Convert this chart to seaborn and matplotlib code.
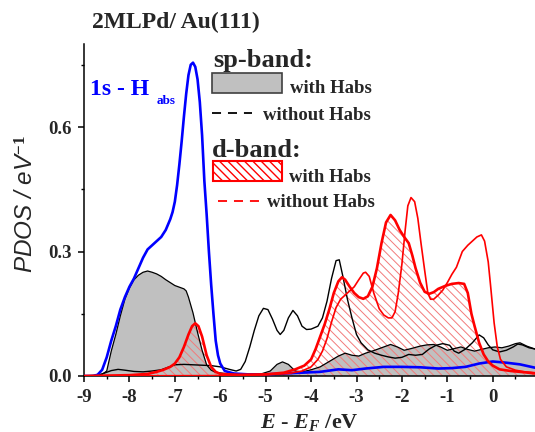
import matplotlib
matplotlib.use("Agg")
import matplotlib.pyplot as plt
import numpy as np
import seaborn as sns
from matplotlib.lines import Line2D
from matplotlib.patches import Rectangle
from matplotlib.ticker import MultipleLocator

# ---- data (energy in eV, PDOS in 1/eV) ----
h1s_e = [-9.0, -8.8, -8.7, -8.6, -8.5, -8.4, -8.3, -8.2, -8.1, -8.0, -7.9, -7.8, -7.7,
         -7.6, -7.5, -7.4, -7.3, -7.2, -7.1, -7.05, -7.0, -6.95, -6.9, -6.85, -6.8, -6.75,
         -6.7, -6.65, -6.6, -6.55, -6.5, -6.45, -6.4, -6.35, -6.3, -6.25, -6.2, -6.15, -6.1,
         -6.05, -6.0, -5.9, -5.7, -5.4, -5.0, -4.6, -4.2, -3.8, -3.4, -3.1, -2.8, -2.4, -2.0,
         -1.6, -1.2, -0.9, -0.6, -0.3, 0.0, 0.3, 0.6, 0.93]
h1s_v = [0.0, 0.0, 0.003, 0.015, 0.045, 0.085, 0.12, 0.16, 0.19, 0.215, 0.235, 0.26, 0.285,
         0.305, 0.315, 0.325, 0.335, 0.352, 0.378, 0.395, 0.42, 0.46, 0.51, 0.565, 0.625, 0.68,
         0.725, 0.75, 0.755, 0.745, 0.715, 0.66, 0.58, 0.47, 0.39, 0.30, 0.22, 0.15, 0.085,
         0.05, 0.03, 0.012, 0.006, 0.004, 0.004, 0.006, 0.008, 0.01, 0.016, 0.014, 0.018, 0.022, 0.022,
         0.021, 0.018, 0.019, 0.022, 0.03, 0.035, 0.032, 0.028, 0.02]

sp_h_e = [-9.0, -8.7, -8.6, -8.5, -8.4, -8.3, -8.2, -8.1, -8.0, -7.9, -7.8, -7.7, -7.6,
          -7.5, -7.4, -7.3, -7.2, -7.1, -7.0, -6.9, -6.8, -6.75, -6.7, -6.6, -6.5, -6.4,
          -6.3, -6.2, -6.1, -5.9, -5.5, -5.1, -4.9, -4.75, -4.63, -4.5, -4.35, -4.2, -4.0,
          -3.8, -3.6, -3.4, -3.25, -3.1, -2.95, -2.8, -2.6, -2.4, -2.25, -2.1, -1.95, -1.8,
          -1.6, -1.45, -1.3, -1.15, -1.0, -0.85, -0.7, -0.55, -0.4, -0.25, -0.1, 0.05, 0.2,
          0.35, 0.5, 0.6, 0.75, 0.93]
sp_h_v = [0.0, 0.001, 0.004, 0.012, 0.06, 0.10, 0.145, 0.185, 0.212, 0.232, 0.243, 0.25, 0.253,
          0.25, 0.246, 0.24, 0.232, 0.225, 0.218, 0.214, 0.21, 0.205, 0.19, 0.152, 0.105, 0.062,
          0.027, 0.014, 0.009, 0.006, 0.004, 0.005, 0.012, 0.028, 0.034, 0.028, 0.012, 0.01, 0.015,
          0.022, 0.035, 0.048, 0.055, 0.05, 0.048, 0.055, 0.062, 0.07, 0.076, 0.07, 0.062, 0.066,
          0.072, 0.075, 0.076, 0.07, 0.062, 0.066, 0.07, 0.064, 0.06, 0.064, 0.068, 0.07, 0.068,
          0.072, 0.078, 0.08, 0.072, 0.065]

sp_0_e = [-9.0, -8.7, -8.55, -8.4, -8.25, -8.1, -7.9, -7.7, -7.5, -7.3, -7.15, -7.0, -6.8,
          -6.6, -6.4, -6.2, -6.0, -5.8, -5.65, -5.55, -5.45, -5.35, -5.25, -5.15, -5.05, -4.95,
          -4.85, -4.75, -4.68, -4.6, -4.5, -4.4, -4.3, -4.2, -4.1, -4.0, -3.85, -3.75, -3.65,
          -3.55, -3.45, -3.38, -3.3, -3.2, -3.1, -3.0, -2.9, -2.75, -2.6, -2.45, -2.3, -2.15,
          -2.0, -1.85, -1.7, -1.55, -1.4, -1.25, -1.1, -0.95, -0.85, -0.75, -0.6, -0.45, -0.3,
          -0.2, -0.1, 0.0, 0.15, 0.3, 0.45, 0.55, 0.65, 0.8, 0.93]
sp_0_v = [0.0, 0.002, 0.007, 0.013, 0.016, 0.014, 0.011, 0.01, 0.012, 0.015, 0.021, 0.027, 0.028,
          0.027, 0.026, 0.025, 0.022, 0.016, 0.012, 0.016, 0.035, 0.07, 0.11, 0.145, 0.163, 0.16,
          0.137, 0.11, 0.10, 0.11, 0.14, 0.158, 0.145, 0.12, 0.112, 0.113, 0.12, 0.14, 0.18,
          0.235, 0.278, 0.28, 0.24, 0.185, 0.14, 0.10, 0.08, 0.063, 0.055, 0.05, 0.046, 0.043,
          0.045, 0.052, 0.05, 0.052, 0.065, 0.074, 0.078, 0.074, 0.06, 0.055, 0.065, 0.08, 0.099,
          0.092, 0.075, 0.063, 0.058, 0.062, 0.07, 0.077, 0.075, 0.068, 0.065]

d_h_e = [-9.0, -8.5, -8.0, -7.6, -7.4, -7.25, -7.1, -7.0, -6.9, -6.8, -6.7, -6.62, -6.55,
         -6.48, -6.4, -6.3, -6.2, -6.1, -6.0, -5.6, -5.0, -4.6, -4.35, -4.15, -4.0, -3.9,
         -3.8, -3.7, -3.6, -3.5, -3.4, -3.32, -3.25, -3.15, -3.05, -2.95, -2.85, -2.75, -2.65,
         -2.55, -2.45, -2.35, -2.25, -2.15, -2.05, -1.95, -1.85, -1.77, -1.7, -1.6, -1.5, -1.4,
         -1.3, -1.2, -1.05, -0.9, -0.75, -0.63, -0.55, -0.47, -0.4, -0.3, -0.2, -0.1, 0.0,
         0.15, 0.4, 0.7, 0.93]
d_h_v = [0.0, 0.001, 0.002, 0.005, 0.01, 0.015, 0.022, 0.03, 0.045, 0.07, 0.10, 0.12, 0.127,
         0.12, 0.095, 0.05, 0.022, 0.01, 0.005, 0.003, 0.004, 0.008, 0.016, 0.025, 0.04, 0.065,
         0.095, 0.125, 0.16, 0.20, 0.228, 0.238, 0.232, 0.215, 0.20, 0.19, 0.186, 0.192, 0.215,
         0.26, 0.32, 0.37, 0.388, 0.375, 0.352, 0.335, 0.32, 0.29, 0.26, 0.225, 0.203, 0.198,
         0.202, 0.21, 0.217, 0.222, 0.224, 0.222, 0.20, 0.15, 0.12, 0.08, 0.052, 0.035, 0.025,
         0.016, 0.012, 0.009, 0.006]

d_0_e = [-9.0, -6.0, -5.0, -4.5, -4.2, -4.0, -3.85, -3.75, -3.65, -3.55, -3.45, -3.35, -3.25,
         -3.15, -3.05, -2.95, -2.85, -2.8, -2.72, -2.62, -2.5, -2.4, -2.3, -2.22, -2.15, -2.08,
         -2.0, -1.93, -1.87, -1.8, -1.72, -1.65, -1.58, -1.5, -1.43, -1.37, -1.3, -1.2, -1.1,
         -1.0, -0.9, -0.8, -0.67, -0.55, -0.45, -0.35, -0.25, -0.18, -0.1, -0.05, 0.03, 0.1,
         0.17, 0.3, 0.5, 0.7, 0.93]
d_0_v = [0.0, 0.001, 0.003, 0.006, 0.012, 0.022, 0.04, 0.06, 0.09, 0.13, 0.165, 0.185, 0.195,
         0.205, 0.215, 0.232, 0.248, 0.25, 0.24, 0.20, 0.162, 0.147, 0.14, 0.14, 0.155, 0.20,
         0.27, 0.35, 0.41, 0.43, 0.42, 0.38, 0.32, 0.255, 0.20, 0.185, 0.185, 0.195, 0.207,
         0.225, 0.245, 0.262, 0.30, 0.315, 0.325, 0.335, 0.34, 0.325, 0.275, 0.22, 0.128, 0.07,
         0.04, 0.022, 0.014, 0.01, 0.008]

x_ticks = [-9, -8, -7, -6, -5, -4, -3, -2, -1, 0]
y_ticks = [0.0, 0.3, 0.6]

SERIF = "Liberation Serif"
SANS = "Liberation Sans"
W, H = 535, 432


def fx(px):
    return px / W


def fy(py):
    return 1 - py / H


sns.set_style("ticks")
plt.rcParams["font.family"] = [SERIF, "DejaVu Serif"]
plt.rcParams["font.weight"] = "bold"
plt.rcParams["mathtext.fontset"] = "custom"
plt.rcParams["mathtext.rm"] = "Liberation Serif:bold"
plt.rcParams["mathtext.it"] = "Liberation Serif:italic:bold"
plt.rcParams["mathtext.bf"] = "Liberation Serif:bold"
plt.rcParams["lines.scale_dashes"] = False
plt.rcParams["hatch.linewidth"] = 0.7

fig = plt.figure(figsize=(W / 100, H / 100), dpi=100)
ax = fig.add_axes([fx(84), fy(376), fx(535) - fx(84), fy(44) - fy(376)])

# filled areas first
ax.fill_between(sp_h_e, sp_h_v, 0, facecolor="#c0c0c0", edgecolor="none", zorder=1)
ax.fill_between(d_h_e, d_h_v, 0, facecolor="none", edgecolor="#f27a7a",
                hatch="\\\\\\\\", linewidth=0, zorder=2)

sns.lineplot(x=sp_h_e, y=sp_h_v, color="black", lw=0.9, ax=ax, sort=False,
             estimator=None, zorder=3)
sns.lineplot(x=sp_0_e, y=sp_0_v, color="black", lw=1.0, ax=ax, sort=False,
             estimator=None, zorder=3)
sns.lineplot(x=h1s_e, y=h1s_v, color="#0000ff", lw=1.9, ax=ax, sort=False,
             estimator=None, zorder=4)
sns.lineplot(x=d_0_e, y=d_0_v, color="#ff0000", lw=1.2, ax=ax, sort=False,
             estimator=None, zorder=5)
sns.lineplot(x=d_h_e, y=d_h_v, color="#ff0000", lw=1.9, ax=ax, sort=False,
             estimator=None, zorder=6)

ax.set_xlim(-9, 0.93)
ax.set_ylim(0, 0.8)
ax.set_xticks(x_ticks)
ax.set_yticks(y_ticks)
ax.set_xticklabels([str(t) for t in x_ticks])
ax.set_yticklabels([f"{t:.1f}" for t in y_ticks])
ax.xaxis.set_minor_locator(MultipleLocator(0.5))
ax.yaxis.set_minor_locator(MultipleLocator(0.15))
ax.tick_params(which="major", direction="out", length=4.5, width=1.1,
               labelsize=13.5, color="black")
ax.tick_params(which="minor", direction="out", length=2.5, width=1.0, color="black")
ax.tick_params(axis="x", pad=5)
ax.tick_params(axis="y", pad=4)
for lab in ax.get_xticklabels() + ax.get_yticklabels():
    lab.set_fontweight("bold")
sns.despine(ax=ax)
for side in ("left", "bottom"):
    ax.spines[side].set_linewidth(1.1)
    ax.spines[side].set_color("black")

ax.set_ylabel("PDOS / eV$^{-1}$", family=SANS, style="italic", weight="normal",
              fontsize=17.5, va="center")
ax.yaxis.set_label_coords(-0.126, 0.518)
ax.set_xlabel(r"$E$ - $E_{F}$ /eV", fontsize=16, weight="bold", va="top")
ax.xaxis.set_label_coords(0.5, -0.108)

# title and curve label
fig.text(fx(92), fy(28), "2MLPd/ Au(111)", fontsize=17, weight="bold",
         ha="left", va="baseline")
fig.text(fx(90), fy(95), "1s - H", fontsize=17, weight="bold", color="#0000ff",
         ha="left", va="baseline")
fig.text(fx(157), fy(104), "abs", fontsize=9.5, weight="bold", color="#0000ff",
         ha="left", va="baseline")

# hand-made legend
fig.text(fx(213), fy(67), "sp-band:", fontsize=19, weight="bold", va="baseline")
fig.patches.append(Rectangle((fx(212), fy(93)), fx(282) - fx(212), fy(73) - fy(93),
                             facecolor="#c0c0c0", edgecolor="#404040", lw=1.2,
                             transform=fig.transFigure, figure=fig))
fig.text(fx(290), fy(93), "with Habs", fontsize=13.5, weight="bold", va="baseline")
fig.lines.append(Line2D([fx(212), fx(252)], [fy(113), fy(113)], color="black", lw=1.3,
                        dashes=(6.5, 5.0), transform=fig.transFigure, figure=fig))
fig.text(fx(263), fy(120), "without Habs", fontsize=13.5, weight="bold", va="baseline")

fig.text(fx(212), fy(157), "d-band:", fontsize=19, weight="bold", va="baseline")
plt.rcParams["hatch.linewidth"] = 1.0
red_box = Rectangle((fx(213), fy(181)), fx(282) - fx(213), fy(161) - fy(181),
                    facecolor="white", edgecolor="#ff0000", lw=1.5, hatch="\\\\\\\\",
                    transform=fig.transFigure, figure=fig)
fig.patches.append(red_box)
fig.text(fx(289), fy(182), "with Habs", fontsize=13.5, weight="bold", va="baseline")
fig.lines.append(Line2D([fx(218), fx(260)], [fy(201), fy(201)], color="#ff0000", lw=1.3,
                        dashes=(6.5, 5.0), transform=fig.transFigure, figure=fig))
fig.text(fx(267), fy(207), "without Habs", fontsize=13.5, weight="bold", va="baseline")

fig.savefig("out.png", dpi=100)
plt.close(fig)
